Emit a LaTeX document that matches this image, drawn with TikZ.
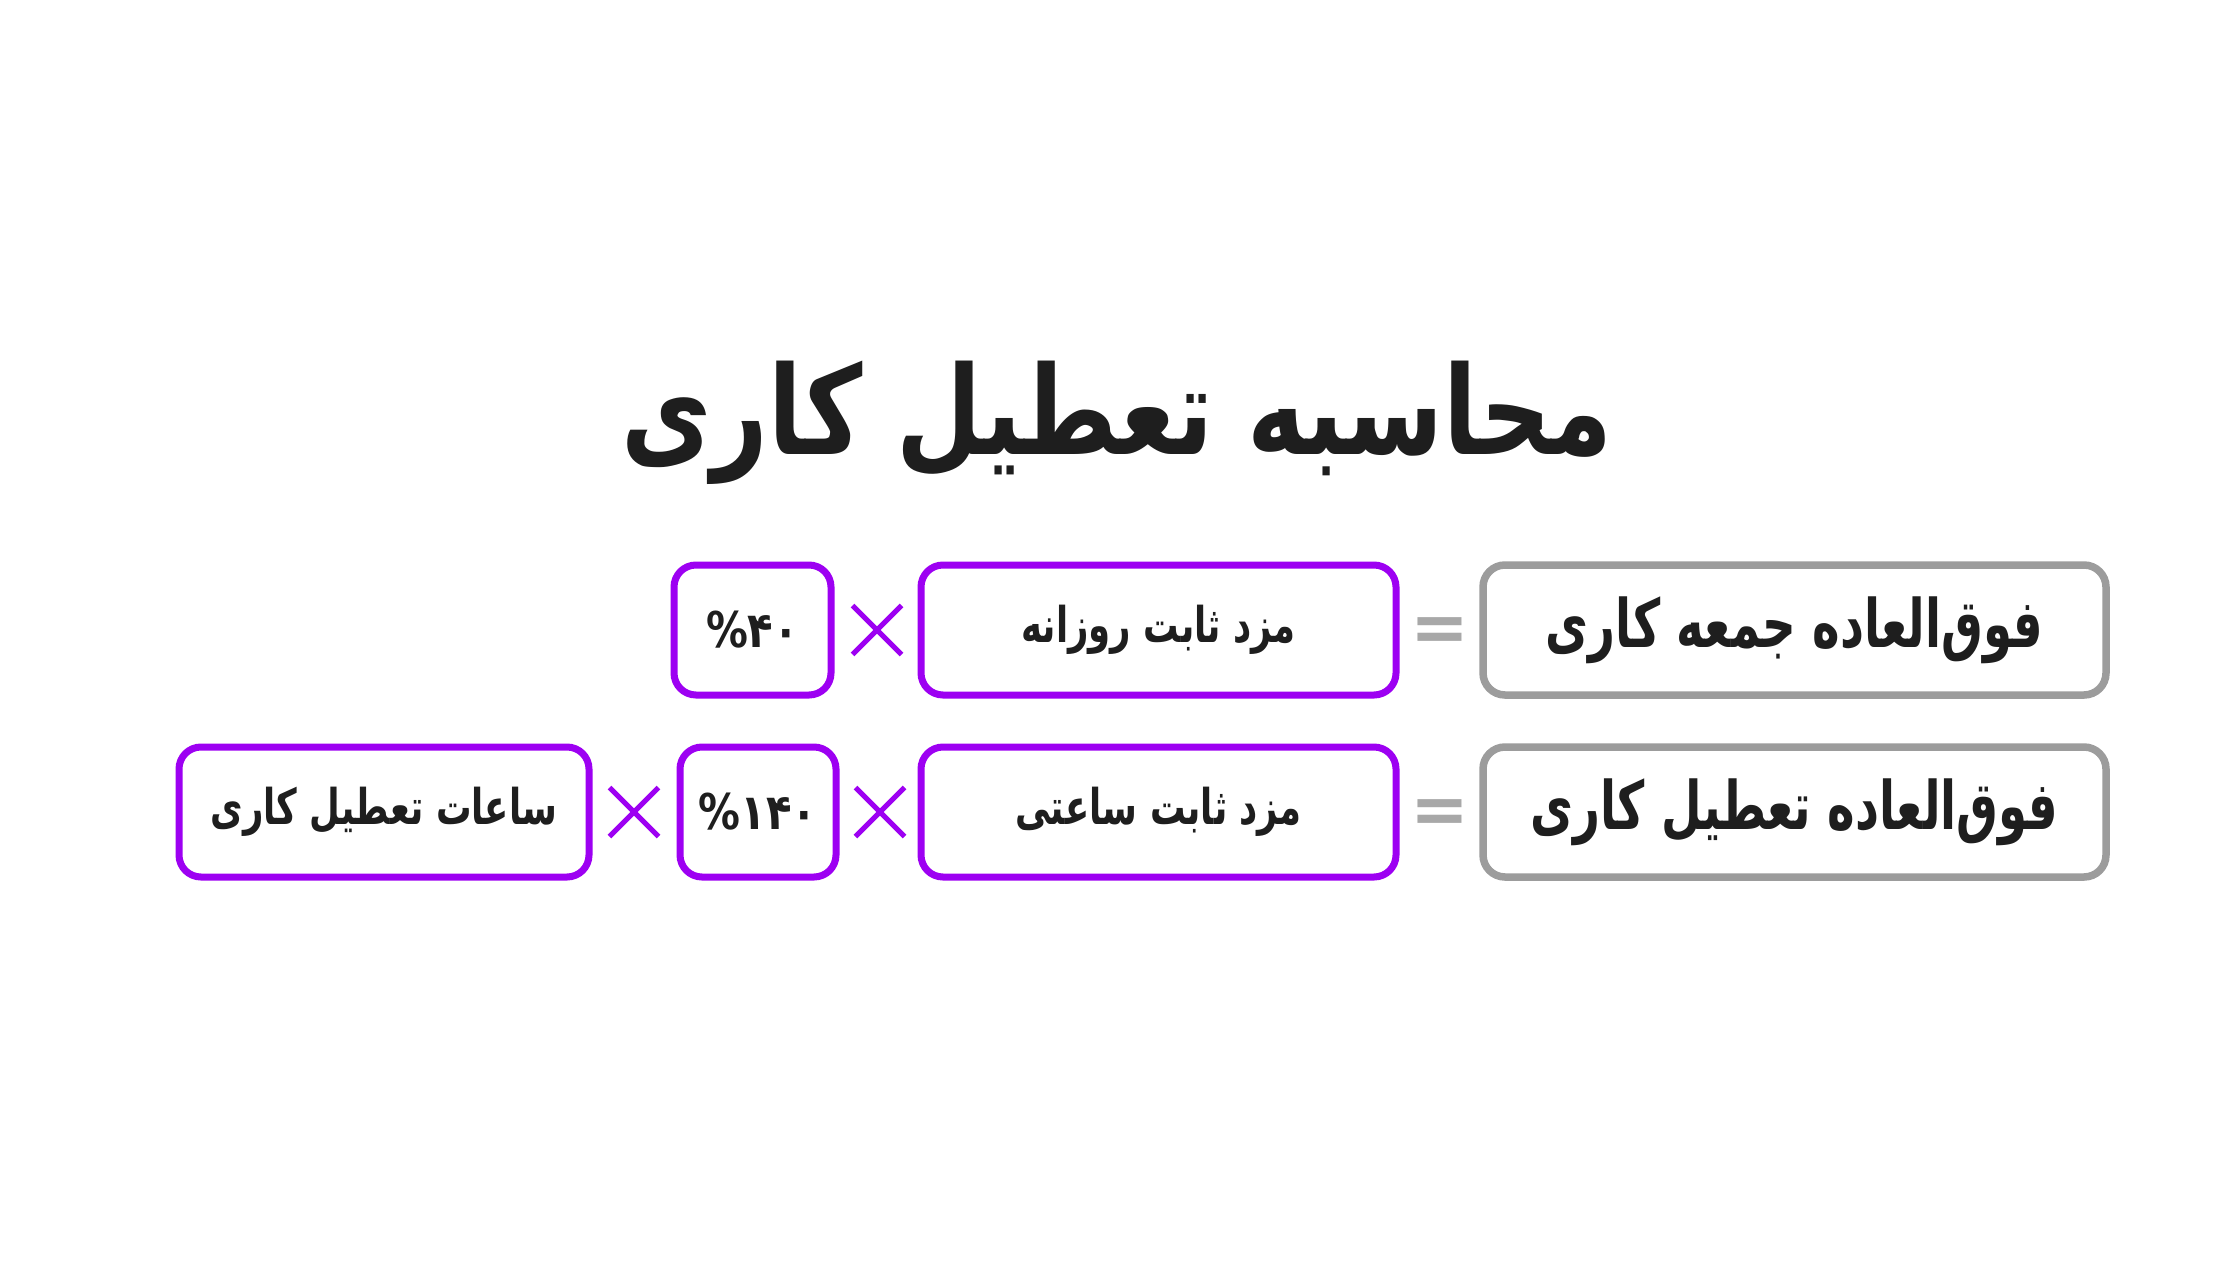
\documentclass[tikz,border=0pt]{standalone}
\usepackage{fontspec}
\usetikzlibrary{shadows,shapes.misc}
\TeXXeTstate=1
\newfontfamily\arabicfont[Script=Arabic]{DejaVu Sans}
\definecolor{vio}{HTML}{9D00F2}
\definecolor{greyb}{HTML}{9C9C9C}
\definecolor{eqgrey}{HTML}{A8A8A8}
\definecolor{ink}{HTML}{1E1E1E}
\newcommand\ttltxt[1]{\scalebox{0.8}[1]{\beginR #1\endR}}
\newcommand\grytxt[1]{\scalebox{0.70}[1]{\beginR #1\endR}}
\newcommand\vlttxt[1]{\scalebox{0.72}[1]{\beginR #1\endR}}
\newcommand\pcttxt[1]{\scalebox{0.85}[1]{#1}}
\tikzset{
  graybox/.style={draw=greyb, line width=0.075cm, rounded corners=0.22cm, fill=white,
    minimum height=1.30cm, text=ink, inner sep=0,
    drop shadow={shadow xshift=0.02cm, shadow yshift=-0.03cm, opacity=0.18, fill=black},
    font=\arabicfont\bfseries\fontsize{19}{22}\selectfont},
  violbox/.style={draw=vio, line width=0.07cm, rounded corners=0.22cm, fill=white,
    minimum height=1.30cm, text=ink, inner sep=0,
    drop shadow={shadow xshift=0.01cm, shadow yshift=-0.02cm, opacity=0.10, fill=black},
    font=\arabicfont\bfseries\fontsize{14}{17}\selectfont},
  eqsign/.style={text=eqgrey, font=\arabicfont\bfseries\fontsize{20}{20}\selectfont, inner sep=0},
  timessign/.style={cross out, draw=vio, line width=0.05cm, minimum size=0.44cm, inner sep=0},
  titletext/.style={text=ink, font=\arabicfont\bfseries\fontsize{35}{40}\selectfont, anchor=base},
}
\begin{document}
\begin{tikzpicture}
\fill[white] (0,0) rectangle (22.4,12.6);
\useasboundingbox (0,0) rectangle (22.4,12.6);

\node[titletext] (title) at (11.17,8.06) {\ttltxt{محاسبه تعطیل کاری}};

% row 1
\node[graybox, minimum width=6.23cm] (g1) at (17.945,6.30) {\grytxt{فوق‌العاده جمعه کاری}};
\node[eqsign] (eq1) at (14.40,6.25) {=};
\node[violbox, minimum width=4.75cm] (p1) at (11.585,6.30) {\vlttxt{مزد ثابت روزانه}};
\node[timessign] (x1) at (8.77,6.30) {};
\node[violbox, minimum width=1.57cm] (r1) at (7.525,6.30) {\pcttxt{\%۴۰}};

% row 2
\node[graybox, minimum width=6.23cm] (g2) at (17.945,4.48) {\grytxt{فوق‌العاده تعطیل کاری}};
\node[eqsign] (eq2) at (14.40,4.43) {=};
\node[violbox, minimum width=4.75cm] (p2) at (11.585,4.48) {\vlttxt{مزد ثابت ساعتی}};
\node[timessign] (x2) at (8.80,4.48) {};
\node[violbox, minimum width=1.56cm] (r2) at (7.58,4.48) {\pcttxt{\%۱۴۰}};
\node[timessign] (x3) at (6.34,4.48) {};
\node[violbox, minimum width=4.10cm] (h2) at (3.84,4.48) {\vlttxt{ساعات تعطیل کاری}};
\end{tikzpicture}
\end{document}
